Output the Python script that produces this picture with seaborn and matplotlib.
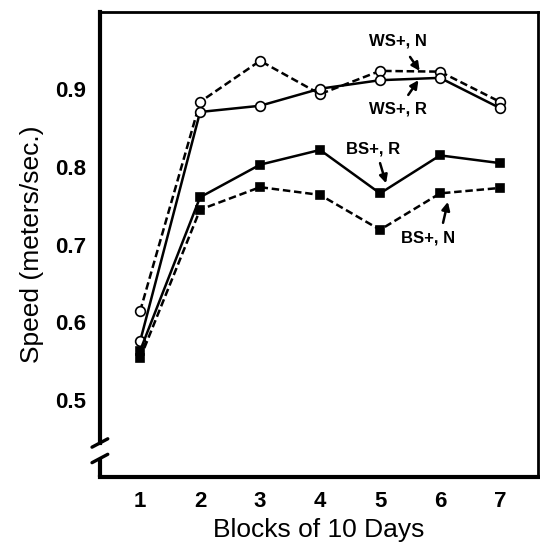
import matplotlib
matplotlib.use("Agg")
import matplotlib.pyplot as plt
import numpy as np
import pandas as pd
import seaborn as sb

BLOCKS = [1, 2, 3, 4, 5, 6, 7]
WS_N = [0.614, 0.884, 0.937, 0.894, 0.924, 0.923, 0.884]
WS_R = [0.575, 0.871, 0.879, 0.901, 0.912, 0.915, 0.876]
BS_R = [0.563, 0.761, 0.803, 0.822, 0.766, 0.815, 0.805]
BS_N = [0.553, 0.745, 0.774, 0.764, 0.719, 0.766, 0.773]
Y_TICKS = [0.5, 0.6, 0.7, 0.8, 0.9]
Y_TICK_LABELS = ["0.5", "0.6", "0.7", "0.8", "0.9"]

sb.set_style("white", {"axes.edgecolor": "black", "text.color": "black",
                       "axes.labelcolor": "black", "xtick.color": "black",
                       "ytick.color": "black"})
plt.rcParams["font.family"] = ["Liberation Sans", "DejaVu Sans"]

fig = plt.figure(figsize=(5.4, 5.44), dpi=100)
ax = fig.add_axes([0.185, 0.123, 0.811, 0.855])

series = [
    (WS_N, "--", "o", "white", 7),
    (WS_R, "-", "o", "white", 7),
    (BS_R, "-", "s", "black", 5.5),
    (BS_N, "--", "s", "black", 5.5),
]
for vals, ls, mk, fc, ms in series:
    df = pd.DataFrame({"block": BLOCKS, "speed": vals})
    sb.lineplot(data=df, x="block", y="speed", ax=ax, color="black",
                linewidth=1.8, marker=mk, markersize=ms,
                markerfacecolor=fc, markeredgecolor="black", markeredgewidth=1.2)
    line = ax.lines[-1]
    line.set_linestyle(ls)
    if ls == "--":
        line.set_dashes((3, 1.5))

ax.set_xlim(0.33, 7.63)
ax.set_ylim(0.4, 1.0)
ax.set_xticks(BLOCKS)
ax.set_yticks(Y_TICKS)
ax.set_yticklabels(Y_TICK_LABELS)
ax.tick_params(axis="both", direction="in", length=8, width=3, labelsize=16, pad=10,
               colors="black")
ax.tick_params(top=False, right=False)
for lbl in ax.get_xticklabels() + ax.get_yticklabels():
    lbl.set_fontweight("bold")

for side in ["left", "bottom"]:
    ax.spines[side].set_linewidth(3)
for side in ["top", "right"]:
    ax.spines[side].set_linewidth(2)

ax.set_xlabel("Blocks of 10 Days", fontsize=19, labelpad=4, color="black")
ax.set_ylabel("Speed (meters/sec.)", fontsize=19, labelpad=8, color="black")

# axis break on the y axis
ax.spines["left"].set_bounds(0.444, 1.0)
for yb in [0.444, 0.424]:
    yc = (yb - 0.4) / 0.6
    ax.plot([-0.018, 0.018], [yc - 0.009, yc + 0.009],
            transform=ax.transAxes, color="black", lw=2.4, clip_on=False)
ax.plot([0, 0], [0, (0.424 - 0.4) / 0.6], transform=ax.transAxes,
        color="black", lw=3, clip_on=False, solid_capstyle="butt")

notes = [
    ("WS+, N", (5.30, 0.962), (5.5, 0.942), (5.66, 0.924)),
    ("WS+, R", (5.30, 0.875), (5.47, 0.893), (5.64, 0.912)),
    ("BS+, R", (4.88, 0.823), (5.0, 0.805), (5.1, 0.779)),
    ("BS+, N", (5.80, 0.709), (6.05, 0.728), (6.13, 0.755)),
]
for txt, tpos, tail, head in notes:
    ax.text(tpos[0], tpos[1], txt, fontsize=12, fontweight="bold",
            ha="center", va="center", color="black")
    ax.annotate("", xy=head, xytext=tail,
                arrowprops=dict(arrowstyle="-|>", color="black", lw=1.8,
                                mutation_scale=12, shrinkA=0, shrinkB=0))

fig.savefig("out.png", dpi=100)
